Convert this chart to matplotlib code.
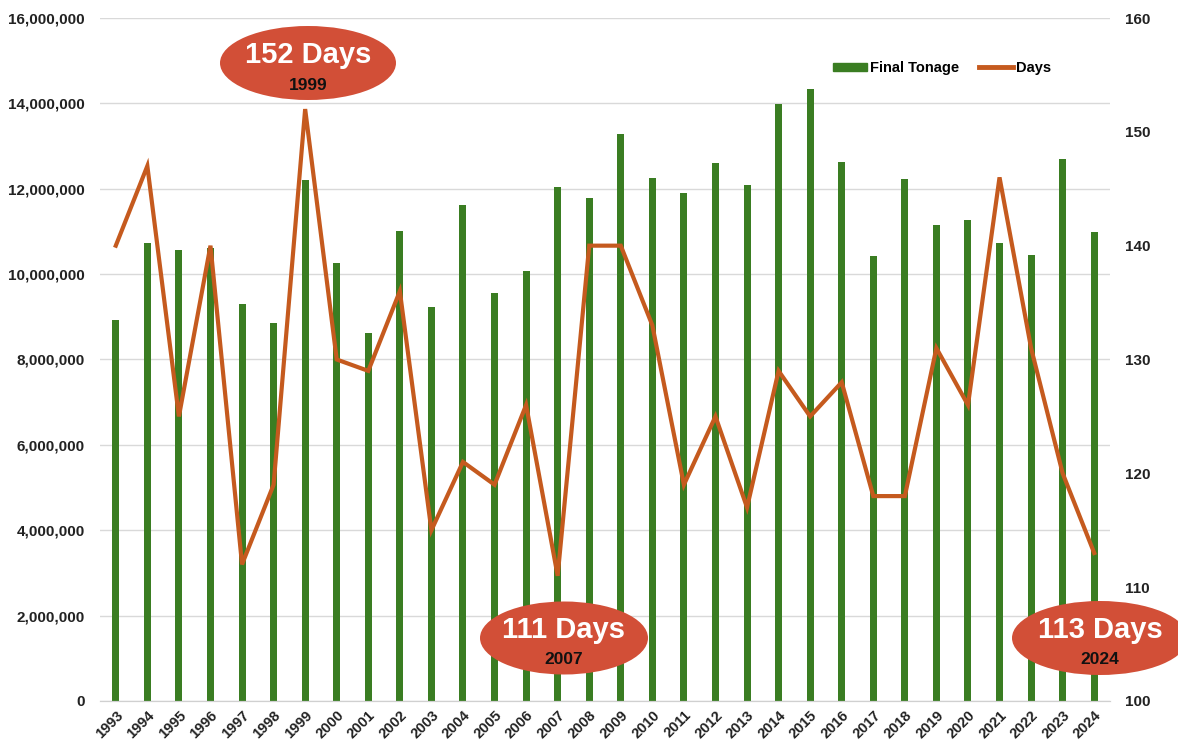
import matplotlib
matplotlib.use("Agg")
import matplotlib.pyplot as plt
from matplotlib.patches import Ellipse, Patch
from matplotlib.lines import Line2D
from matplotlib.ticker import FuncFormatter

years = [str(y) for y in range(1993, 2025)]
tonnage = [8.92e6, 10.72e6, 10.56e6, 10.62e6, 9.30e6, 8.86e6, 12.20e6, 10.25e6,
           8.61e6, 11.01e6, 9.22e6, 11.63e6, 9.56e6, 10.07e6, 12.05e6, 11.79e6,
           13.28e6, 12.26e6, 11.90e6, 12.61e6, 12.08e6, 13.98e6, 14.33e6, 12.62e6,
           10.43e6, 12.24e6, 11.15e6, 11.27e6, 10.73e6, 10.45e6, 12.70e6, 10.99e6]
days = [140, 147, 125, 140, 112, 119, 152, 130, 129, 136, 115, 121, 119, 126, 111, 140,
        140, 133, 119, 125, 117, 129, 125, 128, 118, 118, 131, 126, 146, 131, 120, 113]

callouts = [("152 Days", "1999"), ("111 Days", "2007"), ("113 Days", "2024")]

W, H = 1178, 746
plt.rcParams['font.family'] = ['Liberation Sans', 'DejaVu Sans']
fig = plt.figure(figsize=(W / 100, H / 100), dpi=100)
ax = fig.add_axes([100 / W, 1 - 701 / H, 1010 / W, 683 / H])
ax2 = ax.twinx()

green = '#3a7d22'
orange = '#c55a1e'
red = '#d24f37'

x = list(range(len(years)))
ax.bar(x, tonnage, width=0.22, color=green, zorder=2)
ax.set_ylim(0, 16e6)
ax.set_yticks([i * 2e6 for i in range(9)])
ax.yaxis.set_major_formatter(FuncFormatter(lambda v, p: f"{int(v):,}"))
ax.grid(axis='y', color='#d9d9d9', lw=1, zorder=0)
ax.set_axisbelow(True)
ax.set_xlim(-0.5, len(years) - 0.5)
ax.set_xticks(x)
ax.set_xticklabels(years, rotation=45, ha='right', rotation_mode='anchor',
                   fontsize=10.5, fontweight='bold', color='#222222')
for lab in ax.get_yticklabels():
    lab.set_fontsize(11)
    lab.set_fontweight('bold')
    lab.set_color('#222222')
ax.tick_params(axis='both', length=0)
ax.tick_params(axis='y', pad=11)
ax.tick_params(axis='x', pad=5)

ax2.plot(x, days, color=orange, lw=3, zorder=3, solid_joinstyle='miter')
ax2.set_ylim(100, 160)
ax2.set_yticks(range(100, 161, 10))
for lab in ax2.get_yticklabels():
    lab.set_fontsize(11)
    lab.set_fontweight('bold')
    lab.set_color('#222222')
ax2.tick_params(axis='y', length=0, pad=11)

for a in (ax, ax2):
    for s in ('top', 'left', 'right'):
        a.spines[s].set_visible(False)
    a.spines['bottom'].set_color('#d0d0d0')

handles = [Patch(color=green), Line2D([0], [0], color=orange, lw=3.5)]
ax2.legend(handles, ['Final Tonage', 'Days'], loc='center', ncol=2, frameon=False,
           bbox_to_anchor=(942 / W, 1 - 68 / H), bbox_transform=fig.transFigure,
           prop={'weight': 'bold', 'size': 10.5}, handlelength=2.3, handleheight=0.45,
           columnspacing=1.4, handletextpad=0.2)

# callout ellipses (figure pixel positions)
spots = [(308, 63, 176, 74), (564, 638, 168, 73), (1100, 638, 176, 74)]
for (cx, cy, w, h), (big, small) in zip(spots, callouts):
    e = Ellipse((cx / W, 1 - cy / H), w / W, h / H, transform=fig.transFigure,
                facecolor=red, edgecolor='none', zorder=10)
    fig.add_artist(e)
    fig.text(cx / W, 1 - (cy - 8) / H, big, ha='center', va='center', color='white',
             fontsize=21, fontweight='bold', zorder=11)
    fig.text(cx / W, 1 - (cy + 22) / H, small, ha='center', va='center', color='#111111',
             fontsize=12.5, fontweight='bold', zorder=11)

fig.savefig('out.png', dpi=100)
